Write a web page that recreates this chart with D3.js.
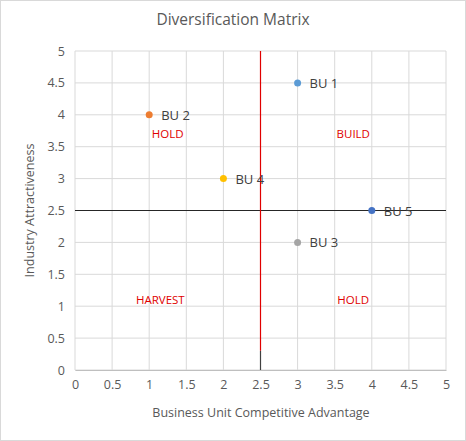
<!DOCTYPE html><html><head><meta charset="utf-8"><script src="https://cdn.jsdelivr.net/npm/d3@7"></script>
<style>body{margin:0;background:#fff}</style></head><body><svg id="c" width="466" height="441"></svg>
<script>
const names=["BU 1","BU 2","BU 3","BU 4","BU 5"];
const xs=[3,1,3,2,4];
const ys=[4.5,4,2,3,2.5];
const colors=["#5b9bd5","#ed7d31","#a5a5a5","#ffc000","#4472c4"];
const quadLabels=["HOLD","BUILD","HARVEST","HOLD"];
const quadX=[1.25,3.75,1.15,3.75];
const quadY=[3.7,3.7,1.1,1.1];
const ticks=[0,0.5,1,1.5,2,2.5,3,3.5,4,4.5,5];
const svg=d3.select("#c");
svg.append("rect").attr("x",0.5).attr("y",0.5).attr("width",465).attr("height",440).attr("fill","#fff").attr("stroke","#d9d9d9");
const x=d3.scaleLinear().domain([0,5]).range([75,446]);
const y=d3.scaleLinear().domain([0,5]).range([370,51]);
const f="'Open Sans', sans-serif";
const g=svg.append("g");
ticks.forEach(t=>{
 g.append("line").attr("x1",x(0)).attr("x2",x(5)).attr("y1",y(t)).attr("y2",y(t)).attr("stroke","#d9d9d9");
 g.append("line").attr("y1",y(0)).attr("y2",y(5)).attr("x1",x(t)).attr("x2",x(t)).attr("stroke","#d9d9d9");
});
const xa=svg.append("g").attr("transform",`translate(0,${y(0)})`).call(d3.axisBottom(x).tickValues(ticks).tickSize(0).tickPadding(10).tickFormat(d3.format("")));
const ya=svg.append("g").attr("transform",`translate(${x(0)},0)`).call(d3.axisLeft(y).tickValues(ticks).tickSize(0).tickPadding(10).tickFormat(d3.format("")));
[xa,ya].forEach(a=>{a.select(".domain").attr("stroke","#bfbfbf");a.selectAll("text").attr("font-family",f).attr("font-size",12.5).attr("fill","#595959");});
ya.select(".domain").remove();
svg.append("line").attr("x1",x(0)).attr("x2",x(5)).attr("y1",y(2.5)).attr("y2",y(2.5)).attr("stroke","#262626").attr("stroke-width",1);
svg.append("line").attr("x1",x(2.5)).attr("x2",x(2.5)).attr("y1",y(5)).attr("y2",y(0.3)).attr("stroke","#e00000").attr("stroke-width",1.2);
svg.append("line").attr("x1",x(2.5)).attr("x2",x(2.5)).attr("y1",y(0.3)).attr("y2",y(0)).attr("stroke","#404040").attr("stroke-width",1.2);
names.forEach((n,i)=>{
 svg.append("circle").attr("cx",x(xs[i])).attr("cy",y(ys[i])).attr("r",3.5).attr("fill",colors[i]);
 svg.append("text").attr("x",x(xs[i])+12).attr("y",y(ys[i])+5).text(n).attr("font-family",f).attr("font-size",13).attr("fill","#404040");
});
quadLabels.forEach((q,i)=>svg.append("text").attr("x",x(quadX[i])).attr("y",y(quadY[i])+4).attr("text-anchor","middle").text(q).attr("font-family",f).attr("font-size",11.5).attr("fill","#e00000"));
svg.append("text").attr("x",233).attr("y",25).attr("text-anchor","middle").text("Diversification Matrix").attr("font-family",f).attr("font-size",15.5).attr("fill","#595959");
svg.append("text").attr("x",261).attr("y",417).attr("text-anchor","middle").text("Business Unit Competitive Advantage").attr("font-family",f).attr("font-size",12.5).attr("fill","#595959");
svg.append("text").attr("transform",`translate(34,${y(2.5)}) rotate(-90)`).attr("text-anchor","middle").text("Industry Attractiveness").attr("font-family",f).attr("font-size",12.5).attr("fill","#595959");
</script></body></html>
